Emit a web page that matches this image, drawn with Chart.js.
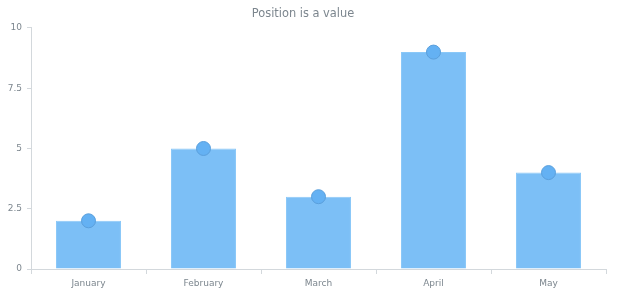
<!DOCTYPE html>
<html>
<head>
<meta charset="utf-8">
<script src="https://cdn.jsdelivr.net/npm/chart.js@4"></script>
<style>
html,body{margin:0;padding:0;background:#fff;}
#wrap{width:620px;height:300px;}
</style>
</head>
<body>
<div id="wrap"><canvas id="c" width="620" height="300"></canvas></div>
<script>
const categories = ["January", "February", "March", "April", "May"];
const barValues = [2, 5, 3, 9, 4];
const markerValues = [2, 5, 3, 9, 4];
const yTicks = [0, 2.5, 5, 7.5, 10];
const titleText = "Position is a value";

const axisColor = "#d3d8dc";
const textColor = "#7c868e";

new Chart(document.getElementById("c"), {
  type: "bar",
  data: {
    labels: categories,
    datasets: [
      {
        type: "line",
        data: markerValues,
        showLine: false,
        pointRadius: 7,
        pointHoverRadius: 7,
        pointBackgroundColor: "#64b1f3",
        pointBorderColor: "#5a9fdc",
        pointBorderWidth: 1,
        order: 0
      },
      {
        type: "bar",
        data: barValues,
        backgroundColor: "#7cbff6",
        borderColor: "#8ac8f8",
        borderWidth: 1,
        barPercentage: 0.565,
        categoryPercentage: 1,
        order: 1
      }
    ]
  },
  options: {
    responsive: false,
    animation: false,
    devicePixelRatio: 1,
    layout: { padding: { left: 0, right: 14, top: 0, bottom: 0 } },
    plugins: {
      legend: { display: false },
      tooltip: { enabled: false },
      title: {
        display: true,
        text: titleText,
        color: textColor,
        font: { family: "DejaVu Sans", size: 11.4, weight: "normal" },
        padding: { top: 7.5, bottom: 6.8 }
      }
    },
    scales: {
      x: {
        offset: true,
        grid: { offset: true, drawOnChartArea: false, color: axisColor, tickLength: 5 },
        border: { color: axisColor },
        ticks: { color: textColor, font: { family: "DejaVu Sans", size: 9 }, padding: 4, maxRotation: 0 },
        afterFit: s => { s.height = 31; }
      },
      y: {
        min: 0, max: 10,
        afterBuildTicks: s => { s.ticks = yTicks.map(v => ({ value: v })); },
        grid: { drawOnChartArea: false, color: axisColor, tickLength: 4 },
        border: { color: axisColor },
        ticks: { color: textColor, font: { family: "DejaVu Sans", size: 9 }, padding: 5 },
        afterFit: s => { s.width = 31; }
      }
    }
  }
});
</script>
</body>
</html>
